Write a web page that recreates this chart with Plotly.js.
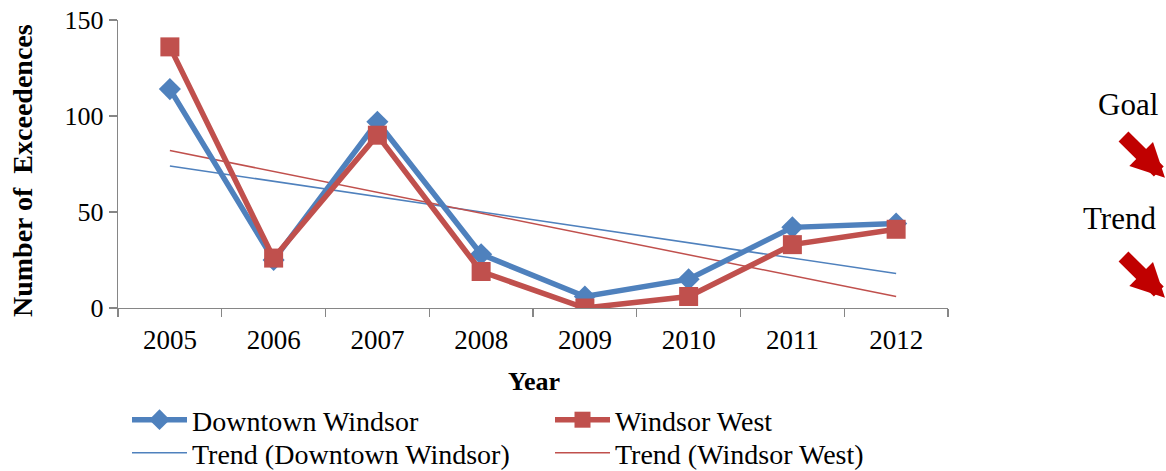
<!DOCTYPE html>
<html>
<head>
<meta charset="utf-8">
<script src="https://cdn.plot.ly/plotly-3.0.1.min.js"></script>
<style>html,body{margin:0;padding:0;background:#fff;}#chart{width:1166px;height:471px;}</style>
</head>
<body>
<div id="chart"></div>
<script>
const years = ['2005','2006','2007','2008','2009','2010','2011','2012'];
const downtownWindsor = [114, 25, 97, 28, 6, 15, 42, 44];
const windsorWest = [136, 26, 90, 19, 0, 6, 33, 41];
const trendYears = ['2005','2012'];
const trendDowntown = [74, 18];
const trendWest = [82, 6];
const yTicks = [0, 50, 100, 150];

const BLUE = '#4F81BD', RED = '#C0504D', ARROW = '#C00000';
const FONT = 'Liberation Serif, Times New Roman, serif';

// pixel helpers for decorations outside the plot (plot area: x 118..948, y 20..308)
const L = 118, R = 218, T = 20, B = 163, W = 1166, H = 471;
const pw = W - L - R, ph = H - T - B;
const px = x => (x - L) / pw;
const py = y => (H - B - y) / ph;

const traces = [
  {x: trendYears, y: trendDowntown, type: 'scatter', mode: 'lines', name: 'Trend (Downtown Windsor)',
   line: {color: BLUE, width: 1.5}, legend: 'legend3'},
  {x: trendYears, y: trendWest, type: 'scatter', mode: 'lines', name: 'Trend (Windsor West)',
   line: {color: RED, width: 1.5}, legend: 'legend4'},
  {x: years, y: downtownWindsor, type: 'scatter', mode: 'lines+markers', name: 'Downtown Windsor',
   line: {color: BLUE, width: 5.5}, marker: {symbol: 'diamond', size: 17, color: BLUE}, legend: 'legend'},
  {x: years, y: windsorWest, type: 'scatter', mode: 'lines+markers', name: 'Windsor West',
   line: {color: RED, width: 5.5}, marker: {symbol: 'square', size: 19, color: RED}, legend: 'legend2'}
];

const legendCommon = {
  orientation: 'h', xanchor: 'left', yanchor: 'middle', itemwidth: 55,
  font: {family: FONT, size: 28, color: '#000'}, bgcolor: 'rgba(0,0,0,0)', borderwidth: 0
};
const leg = (x, y) => Object.assign({}, legendCommon, {x: px(x), y: py(y)});

const arrowCommon = {xref: 'paper', yref: 'paper', text: '', showarrow: true,
  arrowhead: 2, arrowsize: 0.48, arrowwidth: 14, arrowcolor: ARROW, standoff: 0};

const layout = {
  width: W, height: H,
  margin: {l: L, r: R, t: T, b: B, autoexpand: false},
  paper_bgcolor: '#fff', plot_bgcolor: '#fff',
  font: {family: FONT, color: '#000'},
  showlegend: true,
  legend: leg(127, 420),
  legend2: leg(550, 420),
  legend3: leg(127, 453),
  legend4: leg(550, 453),
  xaxis: {
    type: 'category', categoryorder: 'array', categoryarray: years,
    range: [-0.5, 7.5], showgrid: false, zeroline: false,
    showline: true, linecolor: '#868686', linewidth: 1.3,
    ticks: 'outside', ticklen: 8, tickcolor: '#868686', tickwidth: 1.3, tickson: 'boundaries',
    ticklabelstandoff: 7,
    tickfont: {family: FONT, size: 27, color: '#000'}
  },
  yaxis: {
    range: [0, 150], tickvals: yTicks, showgrid: false, zeroline: false,
    showline: true, linecolor: '#868686', linewidth: 1.3,
    ticks: 'outside', ticklen: 8, tickcolor: '#868686', tickwidth: 1.3,
    tickfont: {family: FONT, size: 26, color: '#000'}
  },
  annotations: [
    {xref: 'paper', yref: 'paper', x: px(534), y: py(381), text: '<b>Year</b>', showarrow: false,
     font: {family: FONT, size: 26, color: '#000'}, xanchor: 'center', yanchor: 'middle'},
    {xref: 'paper', yref: 'paper', x: px(22), y: py(171), text: '<b>Number of  Exceedences</b>', showarrow: false,
     textangle: -90, font: {family: FONT, size: 28, color: '#000'}, xanchor: 'center', yanchor: 'middle'},
    {xref: 'paper', yref: 'paper', x: px(1128), y: py(105), text: 'Goal', showarrow: false,
     font: {family: FONT, size: 31, color: '#000'}, xanchor: 'center', yanchor: 'middle'},
    {xref: 'paper', yref: 'paper', x: px(1119), y: py(218), text: 'Trend', showarrow: false,
     font: {family: FONT, size: 31, color: '#000'}, xanchor: 'center', yanchor: 'middle'},
    Object.assign({}, arrowCommon, {x: px(1174.2), y: py(177.7), ax: -52.2, ay: -42.7}),
    Object.assign({}, arrowCommon, {x: px(1174.2), y: py(297.7), ax: -52.2, ay: -42.7})
  ]
};

Plotly.newPlot('chart', traces, layout, {displayModeBar: false, staticPlot: true});
</script>
</body>
</html>
